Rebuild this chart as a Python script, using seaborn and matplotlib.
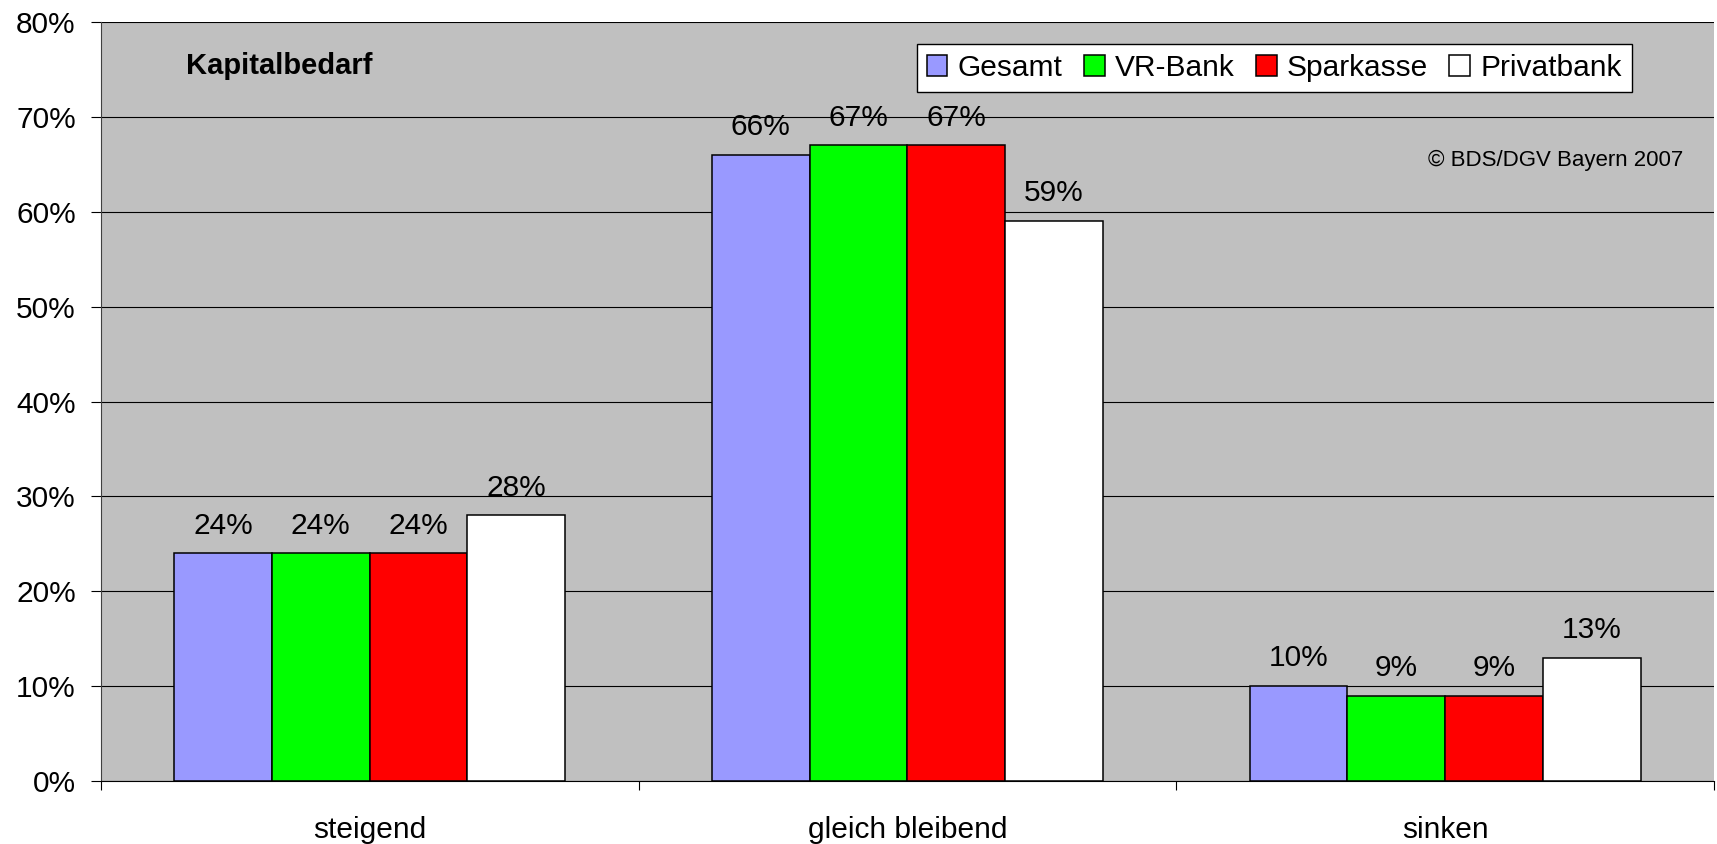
import matplotlib.pyplot as plt
import seaborn as sns
import pandas as pd

categories = ['steigend', 'gleich bleibend', 'sinken']
series = ['Gesamt', 'VR-Bank', 'Sparkasse', 'Privatbank']
gesamt = [24, 66, 10]
vr_bank = [24, 67, 9]
sparkasse = [24, 67, 9]
privatbank = [28, 59, 13]
colors = ['#9999FF', '#00FF00', '#FF0000', '#FFFFFF']

rows = []
for name, vals in zip(series, [gesamt, vr_bank, sparkasse, privatbank]):
    for cat, v in zip(categories, vals):
        rows.append({'Kategorie': cat, 'Bank': name, 'Wert': v})
df = pd.DataFrame(rows)

sns.set_style('white')
plt.rcParams['font.family'] = ['Liberation Sans', 'DejaVu Sans']
plt.rcParams['text.color'] = 'black'
plt.rcParams['xtick.color'] = 'black'
plt.rcParams['ytick.color'] = 'black'

fig = plt.figure(figsize=(17.17, 8.44), dpi=100)
ax = fig.add_axes([0.0587, 0.0746, 0.9396, 0.8993])
ax.set_facecolor('#C0C0C0')

sns.barplot(data=df, x='Kategorie', y='Wert', hue='Bank', order=categories,
            hue_order=series, palette=colors, width=0.727, saturation=1,
            edgecolor='black', linewidth=1.1, ax=ax, legend=True)

for cont in ax.containers:
    for bar in cont:
        h = bar.get_height()
        ax.annotate(f'{h:.0f}%', (bar.get_x() + bar.get_width() / 2, h),
                    xytext=(0, 20), textcoords='offset points',
                    ha='center', va='center', fontsize=21.5)

ax.set_xlim(-0.5, 2.5)
ax.set_ylim(0, 80)
ax.set_yticks(range(0, 81, 10))
ax.set_yticklabels([f'{t}%' for t in range(0, 81, 10)], fontsize=21.5)
ax.yaxis.grid(True, color='black', linewidth=0.8)
ax.set_axisbelow(True)
ax.set_xticks([0, 1, 2])
ax.set_xticklabels(categories, fontsize=21.5)
ax.set_xticks([-0.5, 0.5, 1.5, 2.5], minor=True)
ax.tick_params(axis='x', which='major', length=0, pad=25)
ax.tick_params(axis='x', which='minor', length=6.5, width=0.8, direction='out', bottom=True)
ax.tick_params(axis='y', length=7, width=0.8, direction='out', left=True, pad=11)
ax.set_xlabel('')
ax.set_ylabel('')
for s in ['top', 'right']:
    ax.spines[s].set_visible(False)
ax.spines['left'].set_color('#404040')
ax.spines['bottom'].set_color('black')

ax.text(0.053, 0.942, 'Kapitalbedarf', transform=ax.transAxes, fontsize=21,
        fontweight='bold', va='center', ha='left')
ax.text(0.981, 0.817, '\u00a9 BDS/DGV Bayern 2007', transform=ax.transAxes,
        fontsize=16, va='center', ha='right')

leg = ax.legend(loc='upper right', bbox_to_anchor=(0.949, 0.971), ncol=4, fontsize=21.5,
                frameon=True, fancybox=False, edgecolor='black', framealpha=1,
                handlelength=0.7, handleheight=0.7, handletextpad=0.35,
                columnspacing=0.7, borderpad=0.33, borderaxespad=0)
leg.get_frame().set_linewidth(1)

fig.savefig('out.png', dpi=100)
